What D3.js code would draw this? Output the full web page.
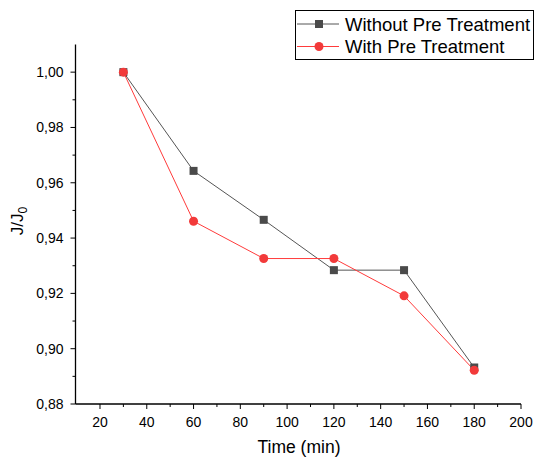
<!DOCTYPE html>
<html>
<head>
<meta charset="UTF-8">
<style>
  body { margin: 0; background: #fff; }
  svg text { font-family: "Liberation Sans", Arial, sans-serif; fill: #000; }
</style>
</head>
<body>
<script src="https://cdn.jsdelivr.net/npm/d3@7"></script>
<script>
const times = [30, 60, 90, 120, 150, 180];
const withoutPre = [1.000, 0.9643, 0.9466, 0.9284, 0.9284, 0.8932];
const withPre = [1.000, 0.9461, 0.9326, 0.9326, 0.9191, 0.8922];
const xTicks = [20, 40, 60, 80, 100, 120, 140, 160, 180, 200];
const yTicks = [0.88, 0.90, 0.92, 0.94, 0.96, 0.98, 1.00];

const width = 535, height = 460;
const svg = d3.select("body").append("svg").attr("width", width).attr("height", height);

const x = d3.scaleLinear().domain([10, 200]).range([76.6, 521]);
const y = d3.scaleLinear().domain([0.88, 1.01]).range([404, 44.5]);
const fmt = d => d.toFixed(2).replace(".", ",");

// x axis
const xAxis = svg.append("g").attr("transform", "translate(0,404)");
xAxis.append("line").attr("x1", 75.5).attr("x2", x(200)).attr("stroke", "#000").attr("stroke-width", 1.3);
xAxis.selectAll(".minor").data(d3.range(30, 200, 20)).enter().append("line")
  .attr("x1", d => x(d)).attr("x2", d => x(d)).attr("y1", 0).attr("y2", 3)
  .attr("stroke", "#000");
xAxis.selectAll(".major").data(xTicks).enter().append("line")
  .attr("x1", d => x(d)).attr("x2", d => x(d)).attr("y1", 0).attr("y2", 5)
  .attr("stroke", "#000");
xAxis.selectAll("text").data(xTicks).enter().append("text")
  .attr("x", d => x(d)).attr("y", 23).attr("text-anchor", "middle")
  .attr("font-size", 14).text(d => d);

// y axis
const yAxis = svg.append("g").attr("transform", "translate(75.5,0)");
yAxis.append("line").attr("y1", y(0.88)).attr("y2", y(1.01)).attr("stroke", "#000").attr("stroke-width", 1.3);
yAxis.selectAll(".minor").data([0.89, 0.91, 0.93, 0.95, 0.97, 0.99]).enter().append("line")
  .attr("y1", d => y(d)).attr("y2", d => y(d)).attr("x1", 0).attr("x2", -3)
  .attr("stroke", "#000");
yAxis.selectAll(".major").data(yTicks).enter().append("line")
  .attr("y1", d => y(d)).attr("y2", d => y(d)).attr("x1", 0).attr("x2", -5)
  .attr("stroke", "#000");
yAxis.selectAll("text").data(yTicks).enter().append("text")
  .attr("x", -12).attr("y", d => y(d) + 5).attr("text-anchor", "end")
  .attr("font-size", 14).text(fmt);

// axis titles
svg.append("text").attr("x", 299).attr("y", 453).attr("text-anchor", "middle")
  .attr("font-size", 17.5).text("Time (min)");
const yt = svg.append("text").attr("transform", "translate(23,221) rotate(-90)")
  .attr("text-anchor", "middle").attr("font-size", 17);
yt.append("tspan").text("J/J");
yt.append("tspan").attr("font-size", 12).attr("dy", 4).text("0");

// series
const line = d3.line().x((d, i) => x(times[i])).y(d => y(d));
const greyLine = "#555555", greyMark = "#4a4a4a";
const redLine = "#ff3b3b", redMark = "#f23a3a";

svg.append("path").datum(withoutPre).attr("d", line)
  .attr("fill", "none").attr("stroke", greyLine).attr("stroke-width", 1);
svg.append("path").datum(withPre).attr("d", line)
  .attr("fill", "none").attr("stroke", redLine).attr("stroke-width", 1);

svg.selectAll(".sq").data(withoutPre).enter().append("rect")
  .attr("x", (d, i) => x(times[i]) - 4).attr("y", d => y(d) - 4)
  .attr("width", 8).attr("height", 8).attr("fill", greyMark);
svg.selectAll(".ci").data(withPre).enter().append("circle")
  .attr("cx", (d, i) => x(times[i])).attr("cy", d => y(d))
  .attr("r", 4.5).attr("fill", redMark);

// legend
const lg = svg.append("g");
lg.append("rect").attr("x", 295.5).attr("y", 10.5).attr("width", 238).attr("height", 49)
  .attr("fill", "#fff").attr("stroke", "#000").attr("stroke-width", 1);
const items = [
  { name: "Without Pre Treatment", color: greyLine, mark: greyMark, shape: "sq" },
  { name: "With Pre Treatment", color: redLine, mark: redMark, shape: "ci" }
];
items.forEach((it, i) => {
  const cy = 24 + i * 22.5;
  lg.append("line").attr("x1", 297).attr("x2", 339).attr("y1", cy).attr("y2", cy)
    .attr("stroke", it.color).attr("stroke-width", 1);
  if (it.shape === "sq") {
    lg.append("rect").attr("x", 315).attr("y", cy - 4).attr("width", 8).attr("height", 8).attr("fill", it.mark);
  } else {
    lg.append("circle").attr("cx", 319).attr("cy", cy).attr("r", 4.5).attr("fill", it.mark);
  }
  lg.append("text").attr("x", 345).attr("y", cy + 6.5).attr("font-size", 18.5).text(it.name);
});
</script>
</body>
</html>
